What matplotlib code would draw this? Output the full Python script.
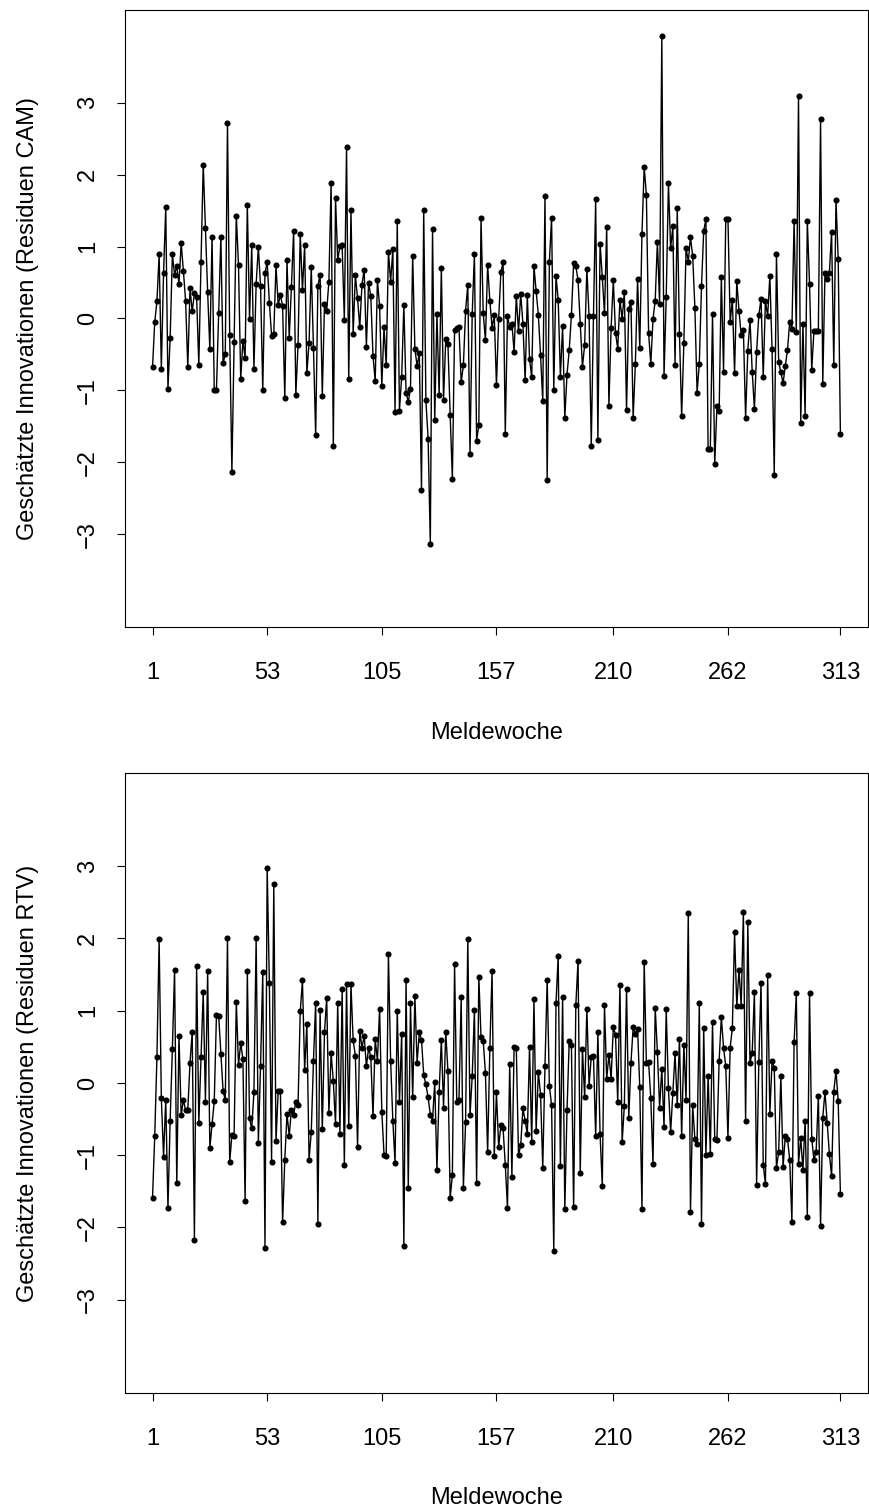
import matplotlib
matplotlib.use("Agg")
import matplotlib.pyplot as plt

# Meldewochen 1..313
weeks = list(range(1, 314))
tick_weeks = [1, 53, 105, 157, 210, 262, 313]
y_ticks = [-3, -2, -1, 0, 1, 2, 3]

# geschaetzte Innovationen
resid_cam = [
    -0.68, -0.05, 0.24, 0.89, -0.70, 0.63, 1.55, -0.98, -0.27, 0.89,
    0.61, 0.73, 0.48, 1.05, 0.66, 0.25, -0.68, 0.42, 0.10, 0.35,
    0.30, -0.65, 0.79, 2.14, 1.26, 0.37, -0.43, 1.14, -0.99, -0.99,
    0.07, 1.14, -0.62, -0.50, 2.72, -0.23, -2.13, -0.32, 1.43, 0.74,
    -0.84, -0.31, -0.55, 1.58, -0.01, 1.02, -0.70, 0.48, 0.99, 0.45,
    -0.99, 0.63, 0.78, 0.22, -0.24, -0.21, 0.74, 0.19, 0.33, 0.17,
    -1.11, 0.81, -0.27, 0.44, 1.22, -1.06, -0.37, 1.18, 0.39, 1.02,
    -0.76, -0.34, 0.71, -0.41, -1.62, 0.45, 0.61, -1.08, 0.20, 0.11,
    0.51, 1.89, -1.77, 1.68, 0.81, 1.01, 1.02, -0.02, 2.38, -0.84,
    1.51, -0.21, 0.60, 0.28, -0.12, 0.47, 0.68, -0.39, 0.50, 0.31,
    -0.52, -0.87, 0.53, 0.17, -0.94, -0.12, -0.65, 0.93, 0.51, 0.96,
    -1.30, 1.35, -1.28, -0.81, 0.19, -1.03, -1.16, -0.98, 0.87, -0.42,
    -0.66, -0.48, -2.39, 1.51, -1.14, -1.67, -3.13, 1.24, -1.41, 0.06,
    -1.07, 0.70, -1.13, -0.29, -0.36, -1.34, -2.23, -0.16, -0.13, -0.12,
    -0.89, -0.65, 0.11, 0.47, -1.89, 0.06, 0.90, -1.70, -1.48, 1.40,
    0.07, -0.30, 0.74, 0.25, -0.13, 0.05, -0.93, -0.01, 0.64, 0.78,
    -1.60, 0.03, -0.12, -0.07, -0.46, 0.31, -0.18, 0.34, -0.07, -0.86,
    0.32, -0.56, -0.82, 0.73, 0.38, 0.05, -0.51, -1.15, 1.70, -2.25,
    0.79, 1.40, -0.99, 0.59, 0.26, -0.81, -0.10, -1.38, -0.78, -0.44,
    0.05, 0.77, 0.73, 0.53, -0.07, -0.67, -0.37, 0.69, 0.04, -1.77,
    0.04, 1.66, -1.69, 1.04, 0.58, 0.07, 1.27, -1.21, -0.13,
    0.53, -0.20, -0.42, 0.26, -0.01, 0.37, -1.27, 0.13, 0.23, -1.38, -0.63,
    0.55, -0.41, 1.18, 2.11, 1.72, -0.20, -0.63, -0.01, 0.25, 1.07,
    0.20, 3.93, -0.80, 0.30, 1.88, 0.98, 1.28, -0.64, 1.53, -0.21,
    -1.36, -0.34, 0.98, 0.79, 1.13, 0.87, 0.15, -1.03, -0.63, 0.45,
    1.22, 1.38, -1.82, -1.82, 0.06, -2.03, -1.22, -1.29, 0.58, -0.74, 1.38,
    1.39, -0.05, 0.26, -0.76, 0.52, 0.11, -0.23, -0.16, -1.38,
    -0.45, -0.02, -0.74, -1.26, -0.46, 0.05, 0.27, -0.81, 0.25, 0.03,
    0.59, -0.43, -2.17, 0.90, -0.60, -0.75, -0.90, -0.66, -0.44, -0.05,
    -0.15, 1.36, -0.19, 3.09, -1.45, -0.08, -1.35, 1.35, 0.48, -0.71,
    -0.17, -0.17, -0.17, 2.78, -0.91, 0.63, 0.55, 0.63, 1.20, -0.65,
    1.65, 0.83, -1.61,
]

resid_rtv = [
    -1.59, -0.74, 0.36, 1.99, -0.21, -1.02, -0.23, -1.73, -0.52, 0.47,
    1.56, -1.39, 0.65, -0.45, -0.23, -0.38, -0.38, 0.28, 0.71, -2.17,
    1.62, -0.55, 0.36, 1.26, -0.26, 1.55, -0.90, -0.57, -0.25, 0.94,
    0.93, 0.40, -0.11, -0.24, 2.01, -1.10, -0.72, -0.73, 1.12, 0.25,
    0.55, 0.33, -1.64, 1.55, -0.49, -0.63, -0.13, 2.00, -0.83, 0.24,
    1.54, -2.28,
    2.98, 1.38, -1.09, 2.75, -0.81, -0.11, -0.11, -1.93, -1.06, -0.43,
    -0.73, -0.37, -0.44, -0.26, -0.31, 0.99, 1.42, 0.18, 0.82, -1.06,
    -0.68, 0.31, 1.11, -1.95, 1.01, -0.64, 0.70, 1.18, -0.42, 0.41,
    0.03, -0.57, 1.11, -0.70, 1.30, -1.14, 1.37, -0.60, 1.37, 0.59,
    0.38, -0.88, 0.72, 0.49, 0.65, 0.23, 0.48, 0.36, -0.46, 0.61,
    0.31, 1.03,
    -0.40, -0.99, -1.01, 1.79, 0.30, -0.52, -1.11, 1.00, -0.27, 0.68,
    -2.26, 1.43, -1.45, 1.11, -0.20, 1.20, 0.28, 0.70, 0.60, 0.11,
    -0.02, -0.20, -0.44, -0.52, 0.01, -1.21, -0.12, 0.60, -0.34, 0.71,
    0.16, -1.59, -1.28, 1.64, -0.27, -0.23, 1.19, -1.45, -0.54, 1.99,
    -0.45, 0.09, 1.01, -1.38, 1.47, 0.63, 0.58, 0.14, -0.96, 0.48,
    1.55, -1.01,
    -0.13, -0.89, -0.58, -0.63, -1.13, -1.73, 0.26, -1.30, 0.50, 0.49,
    -1.00, -0.86, -0.35, -0.52, -0.71, 0.50, -0.82, 1.16, -0.66, 0.15,
    -0.16, -1.17, 0.23, 1.43, -0.04, -0.31, -2.32, 1.10, 1.76, -1.15,
    1.19, -1.75, -0.38, 0.58, 0.52, -1.72, 1.08, 1.69, -1.24, 0.47,
    -0.20, 1.03, -0.04, 0.36, 0.38, -0.74, 0.70, -0.71, -1.42, 1.08,
    0.06, 0.39,
    0.06, 0.77, 0.67, -0.26, 1.36, -0.82, -0.32, 1.30, -0.49, 0.28,
    0.77, 0.68, 0.75, -0.06, -1.75, 1.68, 0.28, 0.29, -0.21, -1.12,
    1.04, 0.43, -0.34, 0.20, -0.61, 1.02, -0.07, -0.68, -0.14, 0.41,
    -0.31, 0.61, -0.74, 0.53, -0.24, 2.35, -1.78, -0.31, -0.78, -0.84,
    1.10, -1.95, 0.76, -1.00, 0.10, -0.98, 0.85, -0.77, -0.79, 0.31,
    0.91, 0.49, 0.23,
    -0.76, 0.49, 0.76, 2.09, 1.06, 1.57, 1.07, 2.37, -0.52, 2.23,
    0.28, 0.42, 1.26, -1.41, 0.29, 1.39, -1.13, -1.40, 1.49, -0.43,
    0.30, 0.21, -1.17, -0.96, 0.10, -1.16, -0.74, -0.77, -1.06, -1.92,
    0.57, 1.24, -1.12, -0.76, -1.20, -0.52, -1.86, 1.24, -0.77, -1.07,
    -0.95, -0.18, -1.98, -0.48, -0.12, -0.56, -0.98, -1.29, -0.12, 0.17,
    -0.25, -1.53,
]

plt.rcParams['font.family'] = ['Liberation Sans', 'DejaVu Sans']
plt.rcParams['font.size'] = 17

fig = plt.figure(figsize=(8.69, 15.08), dpi=100)
ax_top = fig.add_axes([0.1438, 0.5842, 0.855, 0.4092])
ax_bot = fig.add_axes([0.1438, 0.0763, 0.855, 0.4111])

panels = [
    (ax_top, resid_cam, 'Geschätzte Innovationen (Residuen CAM)', -0.172),
    (ax_bot, resid_rtv, 'Geschätzte Innovationen (Residuen RTV)', -0.169),
]

for ax, resid, ylab, xlab_y in panels:
    ax.plot(weeks, resid, color='black', linewidth=1.0,
            marker='o', markersize=4.4, markeredgewidth=0)
    ax.set_xlim(-11.5, 325.5)
    ax.set_ylim(-4.29, 4.29)
    ax.set_xticks(tick_weeks)
    ax.set_xticklabels([str(w) for w in tick_weeks])
    ax.set_yticks(y_ticks)
    ax.set_yticklabels(['\u22123', '\u22122', '\u22121', '0', '1', '2', '3'],
                       rotation=90, va='center')
    ax.tick_params(direction='out', length=5.5, width=0.8)
    ax.tick_params(axis='x', pad=20)
    ax.tick_params(axis='y', pad=13)
    for sp in ax.spines.values():
        sp.set_linewidth(0.8)
    ax.set_xlabel('Meldewoche', va='center')
    ax.xaxis.set_label_coords(0.5, xlab_y)
    ax.set_ylabel(ylab, va='center')
    ax.yaxis.set_label_coords(-0.131, 0.5)

fig.savefig('out.png', dpi=100)
